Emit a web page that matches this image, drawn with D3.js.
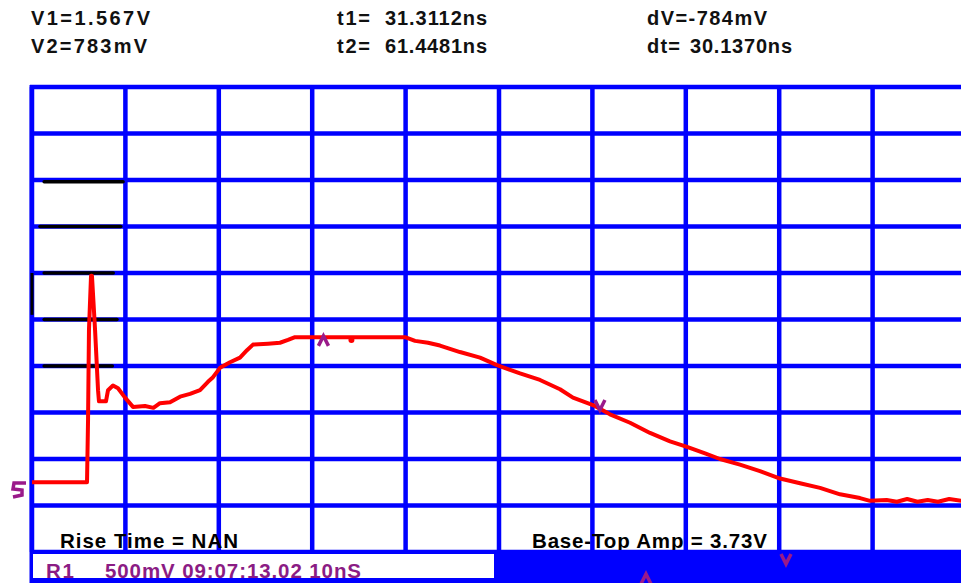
<!DOCTYPE html>
<html lang="en">
<head>
  <meta charset="utf-8">
  <title>Scope capture</title>
  <script src="https://cdn.jsdelivr.net/npm/d3@7"></script>
  <style>
    body { margin: 0; background: #fff; }
    svg { display: block; }
    .hdr { font-family: "Liberation Sans", Arial, sans-serif; font-weight: bold; font-size: 20px; fill: #111; }
    .meas { font-family: "Liberation Sans", Arial, sans-serif; font-weight: bold; font-size: 20.5px; fill: #000; }
    .status { font-family: "Liberation Sans", Arial, sans-serif; font-weight: bold; font-size: 20.5px; fill: #8b1c84; }
  </style>
</head>
<body>
  <div id="chart"></div>
  <script>
    var w = 961, h = 583;

    // time in ns (10 ns/div), voltage in V (500 mV/div)
    var timeDivs = [0, 10, 20, 30, 40, 50, 60, 70, 80, 90, 100];
    var voltDivs = [-0.75, -0.25, 0.25, 0.75, 1.25, 1.75, 2.25, 2.75, 3.25, 3.75, 4.25];

    var traceTime = [0, 5.89, 6.0, 6.1, 6.32, 6.42, 6.75, 7.07, 7.17, 7.92, 8.14, 8.67, 9.21, 9.96,
      10.81, 12.1, 13.0, 13.7, 14.78, 15.85, 16.92, 17.99, 18.84, 19.38, 20.13, 21.2, 22.27, 23.02,
      23.66, 25.27, 26.55, 27.41, 28.16, 39.94, 41.01, 42.4, 43.68, 45.82, 47.97, 49.79, 52.25,
      54.39, 56.53, 57.92, 60.06, 61.88, 64.03, 66.17, 68.31, 70.13, 72.06, 73.66, 75.8, 77.94,
      80.09, 82.23, 84.37, 86.51, 88.65, 89.72, 91.5, 92.6, 93.7, 94.8, 95.9, 97.0, 98.2, 99.5];
    var traceVolt = [0, 0, 0.67, 1.64, 2.22, 2.22, 1.64, 0.99, 0.87, 0.87, 0.99, 1.04, 1.01, 0.91,
      0.81, 0.82, 0.80, 0.85, 0.86, 0.92, 0.95, 0.99, 1.08, 1.13, 1.23, 1.29, 1.34, 1.42,
      1.48, 1.49, 1.50, 1.53, 1.56, 1.56, 1.52, 1.50, 1.47, 1.40, 1.34, 1.26, 1.17,
      1.10, 1.00, 0.91, 0.83, 0.73, 0.64, 0.53, 0.44, 0.38, 0.31, 0.25, 0.19, 0.12,
      0.04, -0.01, -0.06, -0.13, -0.17, -0.20, -0.19, -0.21, -0.18, -0.21, -0.19, -0.21, -0.18, -0.20];

    // black cursor bars in the first column: [t start, t end, volt]
    var cursorBars = [[1.3, 9.75, 3.23], [0.85, 9.5, 2.75], [1.3, 8.7, 2.25], [1.3, 9.1, 1.75], [1.3, 8.6, 1.25]];

    var readoutLabels = [["V1=1.567V", 31, 25, 119], ["V2=783mV", 31, 53, 116],
      ["t1=", 337, 25, 33], ["31.3112ns", 385, 25, 102], ["t2=", 337, 53, 33], ["61.4481ns", 385, 53, 102],
      ["dV=-784mV", 647, 25, 120], ["dt=", 647, 53, 33], ["30.1370ns", 690, 53, 102]];
    var measLabels = [["Rise Time = NAN", 60, 178], ["Base-Top Amp = 3.73V", 532, 235]];
    var statusLabels = [["R1", 46, 28], ["500mV 09:07:13.02 10nS", 105, 256]];

    var t1 = 31.3112, t2 = 61.4481;

    var svg = d3.select("#chart").append("svg")
      .attr("width", w)
      .attr("height", h);

    var x = d3.scaleLinear().domain([0, 100]).range([32, 966]);
    var y = d3.scaleLinear().domain([-0.75, 4.25]).range([552, 87]);

    var blue = "#0000ff";

    // readouts on top
    svg.selectAll(".hdr").data(readoutLabels).enter().append("text")
      .attr("class", "hdr")
      .attr("x", function(d) { return d[1]; })
      .attr("y", function(d) { return d[2]; })
      .attr("textLength", function(d) { return d[3]; })
      .attr("lengthAdjust", "spacing")
      .text(function(d) { return d[0]; });

    // grid
    svg.selectAll(".vgrid").data(timeDivs).enter().append("line")
      .attr("class", "vgrid")
      .attr("x1", function(d) { return x(d); })
      .attr("x2", function(d) { return x(d); })
      .attr("y1", y(4.25))
      .attr("y2", y(-0.75))
      .attr("stroke", blue)
      .attr("stroke-width", 4.5);

    svg.selectAll(".hgrid").data(voltDivs).enter().append("line")
      .attr("class", "hgrid")
      .attr("x1", x(0) - 2)
      .attr("x2", w)
      .attr("y1", function(d) { return y(d); })
      .attr("y2", function(d) { return y(d); })
      .attr("stroke", blue)
      .attr("stroke-width", 4.5);

    // left border runs down through the status bar
    svg.append("line")
      .attr("x1", x(0) - 0.5).attr("x2", x(0) - 0.5)
      .attr("y1", y(4.25) - 2).attr("y2", h)
      .attr("stroke", blue).attr("stroke-width", 4);

    // cursor bars
    svg.selectAll(".bar").data(cursorBars).enter().append("line")
      .attr("class", "bar")
      .attr("x1", function(d) { return x(d[0]); })
      .attr("x2", function(d) { return x(d[1]); })
      .attr("y1", function(d) { return y(d[2]); })
      .attr("y2", function(d) { return y(d[2]); })
      .attr("stroke", "#000")
      .attr("stroke-width", 3.5)
      .attr("stroke-linecap", "round");

    svg.append("line")
      .attr("x1", x(0)).attr("x2", x(0))
      .attr("y1", y(2.25)).attr("y2", y(1.8))
      .attr("stroke", "#000").attr("stroke-width", 3);

    // measurement labels
    svg.selectAll(".meas").data(measLabels).enter().append("text")
      .attr("class", "meas")
      .attr("x", function(d) { return d[1]; })
      .attr("y", 548)
      .attr("textLength", function(d) { return d[2]; })
      .attr("lengthAdjust", "spacing")
      .text(function(d) { return d[0]; });

    // status bar
    svg.append("rect")
      .attr("x", x(0) + 1).attr("y", y(-0.75) + 2)
      .attr("width", 495 - x(0) - 1).attr("height", 578 - y(-0.75) - 2)
      .attr("fill", "#fff");
    svg.append("rect")
      .attr("x", 496).attr("y", y(-0.75) - 2)
      .attr("width", w - 496).attr("height", h - y(-0.75) + 2)
      .attr("fill", blue);
    svg.append("rect")
      .attr("x", 494).attr("y", y(-0.75))
      .attr("width", 3).attr("height", h - y(-0.75))
      .attr("fill", blue);

    svg.selectAll(".status").data(statusLabels).enter().append("text")
      .attr("class", "status")
      .attr("x", function(d) { return d[1]; })
      .attr("y", 578)
      .attr("textLength", function(d) { return d[2]; })
      .attr("lengthAdjust", "spacing")
      .text(function(d) { return d[0]; });

    svg.append("rect")
      .attr("x", 30).attr("y", 578)
      .attr("width", w - 30).attr("height", h - 578)
      .attr("fill", blue);

    // trace
    var pts = d3.zip(traceTime, traceVolt);
    var line = d3.line()
      .x(function(d) { return x(d[0]); })
      .y(function(d) { return y(d[1]); });

    svg.append("path")
      .datum(pts)
      .attr("d", line)
      .attr("fill", "none")
      .attr("stroke", "#ff0000")
      .attr("stroke-width", 4)
      .attr("stroke-linejoin", "round");

    svg.append("circle")
      .attr("cx", x(34.2)).attr("cy", y(1.53))
      .attr("r", 3).attr("fill", "#ff0000");

    // purple markers
    var purple = "#9a1a8a";
    function chevron(cx, cy, up) {
      var s = up ? -1 : 1;
      svg.append("path")
        .attr("d", "M" + (cx - 5) + "," + (cy - 5 * s) + "L" + cx + "," + (cy + 5 * s) + "L" + (cx + 5) + "," + (cy - 5 * s))
        .attr("fill", "none")
        .attr("stroke", purple)
        .attr("stroke-width", 3.5);
    }
    chevron(x(t1) - 1, y(1.52), true);
    chevron(x(t2) - 6, y(0.83), false);
    chevron(786, 559, false);
    chevron(646, 579, true);

    // channel ground marker
    svg.append("path")
      .attr("d", "M26,483 L14,483 L13,489 L22,490 L22,495 L13,497")
      .attr("fill", "none")
      .attr("stroke", purple)
      .attr("stroke-width", 3.5);
  </script>
</body>
</html>
